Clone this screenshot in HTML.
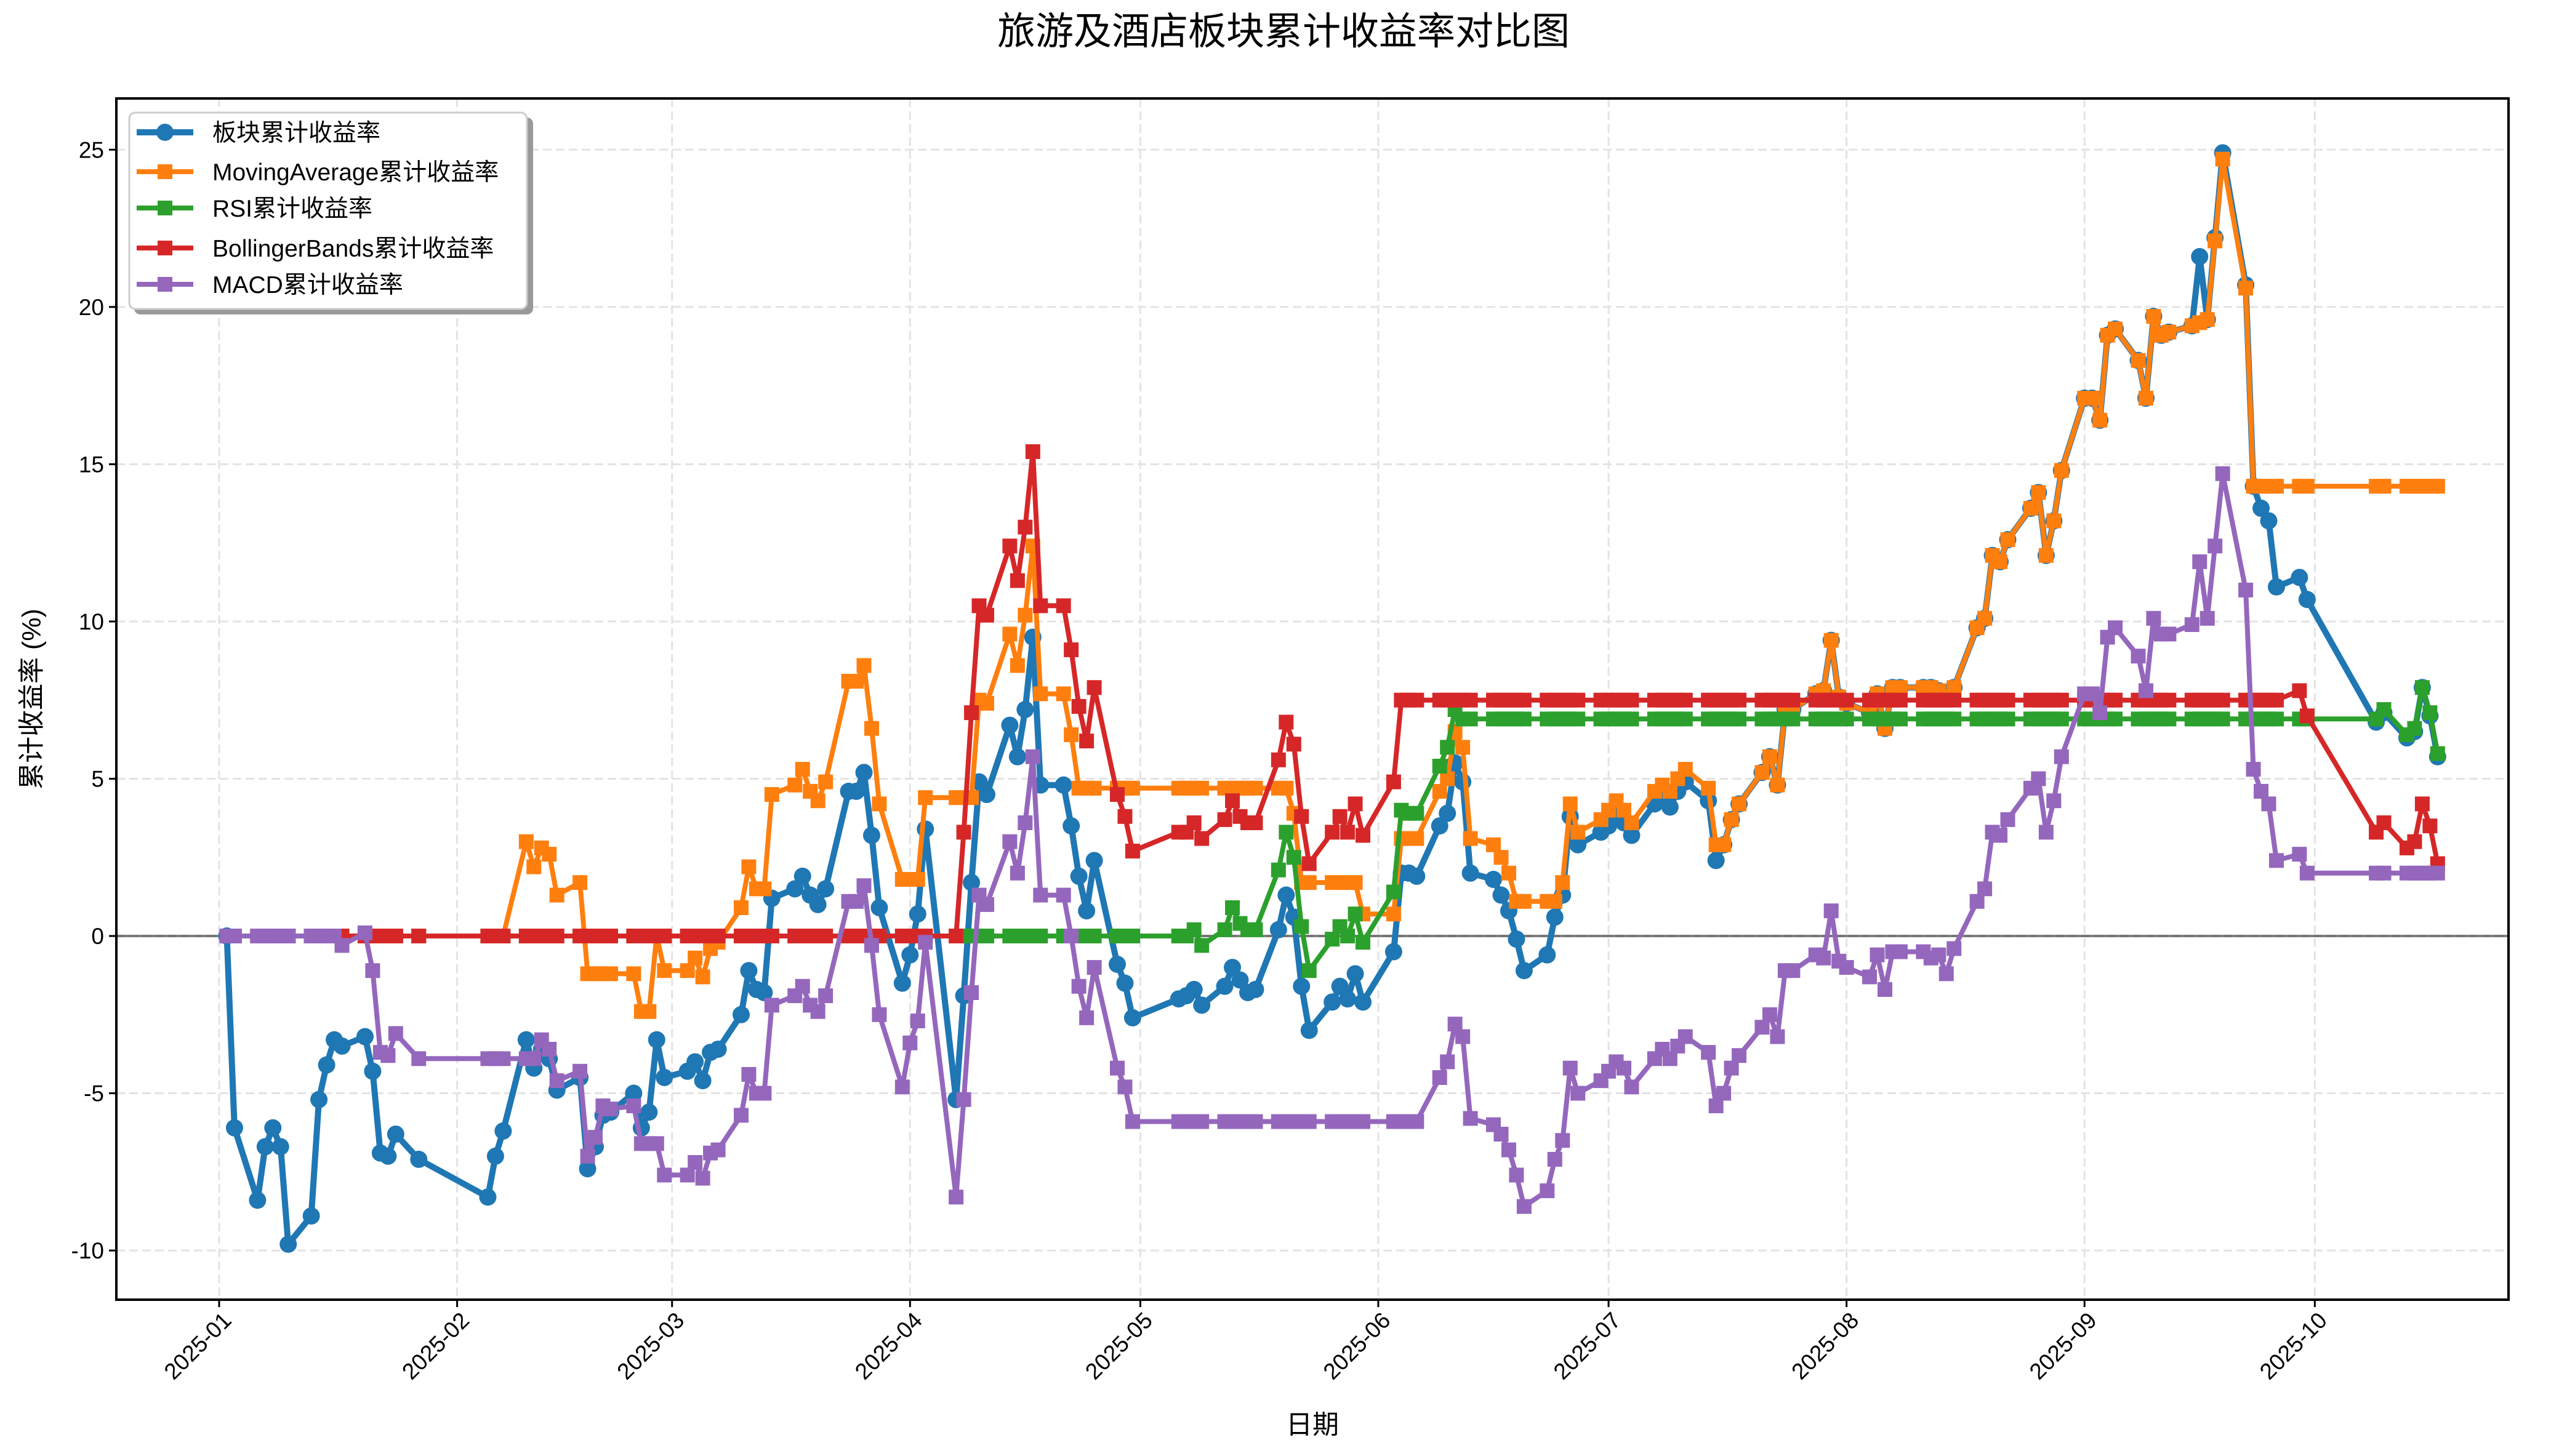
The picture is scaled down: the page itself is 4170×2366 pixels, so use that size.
<!DOCTYPE html>
<html><head><meta charset="utf-8"><style>
html,body{margin:0;padding:0;background:#fff;}
svg{display:block;font-family:"Liberation Sans","Noto Sans CJK SC",sans-serif;}
</style></head><body>
<svg id="chart" width="4170" height="2366" viewBox="0 0 4170 2366" xmlns="http://www.w3.org/2000/svg">
<rect width="4170" height="2366" fill="#fff"/>
<text x="2085" y="72" font-size="62" text-anchor="middle">旅游及酒店板块累计收益率对比图</text>
<g id="grid"></g>
<g id="series"></g>
<g id="axes"></g>
<text x="2132" y="2330" font-size="43" text-anchor="middle">日期</text>
<text transform="translate(66,1136) rotate(-90)" font-size="43" text-anchor="middle">累计收益率 (%)</text>
<g id="legend"></g>
</svg>
<script>
// ---- data ----
const tradingDays = {
  1:[2,3,6,7,8,9,10,13,14,15,16,17,20,21,22,23,24,27],
  2:[5,6,7,10,11,12,13,14,17,18,19,20,21,24,25,26,27,28],
  3:[3,4,5,6,7,10,11,12,13,14,17,18,19,20,21,24,25,26,27,28,31],
  4:[1,2,3,7,8,9,10,11,14,15,16,17,18,21,22,23,24,25,28,29,30],
  5:[6,7,8,9,12,13,14,15,16,19,20,21,22,23,26,27,28,29,30],
  6:[3,4,5,6,9,10,11,12,13,16,17,18,19,20,23,24,25,26,27,30],
  7:[1,2,3,4,7,8,9,10,11,14,15,16,17,18,21,22,23,24,25,28,29,30,31],
  8:[1,4,5,6,7,8,11,12,13,14,15,18,19,20,21,22,25,26,27,28,29],
  9:[1,2,3,4,5,8,9,10,11,12,15,16,17,18,19,22,23,24,25,26,29,30],
  10:[9,10,13,14,15,16,17]
};
const sectorReturns = [
 0,-6.1,-8.4,-6.7,-6.1,-6.7,-9.8,-8.9,-5.2,-4.1,-3.3,-3.5,-3.2,-4.3,-6.9,-7.0,-6.3,-7.1,
 -8.3,-7.0,-6.2,-3.3,-4.2,-3.6,-3.9,-4.9,-4.5,-7.4,-6.7,-5.7,-5.6,-5.0,-6.1,-5.6,-3.3,-4.5,
 -4.3,-4.0,-4.6,-3.7,-3.6,-2.5,-1.1,-1.7,-1.8,1.2,1.5,1.9,1.3,1.0,1.5,4.6,4.6,5.2,3.2,0.9,-1.5,
 -0.6,0.7,3.4,-5.2,-1.9,1.7,4.9,4.5,6.7,5.7,7.2,9.5,4.8,4.8,3.5,1.9,0.8,2.4,-0.9,-1.5,-2.6,
 -2.0,-1.9,-1.7,-2.2,-1.6,-1.0,-1.4,-1.8,-1.7,0.2,1.3,0.6,-1.6,-3.0,-2.1,-1.6,-2.0,-1.2,-2.1,
 -0.5,2.0,2.0,1.9,3.5,3.9,5.5,4.9,2.0,1.8,1.3,0.8,-0.1,-1.1,-0.6,0.6,1.3,3.8,2.9,3.3,
 3.5,3.8,3.6,3.2,4.2,4.3,4.1,4.6,4.9,4.3,2.4,2.9,3.7,4.2,5.2,5.7,4.8,7.2,7.2,7.7,7.8,9.4,7.6,
 7.4,7.1,7.7,6.6,7.9,7.9,7.9,7.9,7.8,7.6,7.9,9.8,10.1,12.1,11.9,12.6,13.6,14.1,12.1,13.2,14.8,
 17.1,17.1,16.4,19.1,19.3,18.3,17.1,19.7,19.1,19.2,19.4,21.6,19.6,22.2,24.9,20.7,14.3,13.6,13.2,11.1,11.4,10.7,
 6.8,7.1,6.3,6.5,7.9,7.0,5.7];
const maReturns = [
 0,0,0,0,0,0,0,0,0,0,0,0,0,0,0,0,0,0,
 0,0,0,3.0,2.2,2.8,2.6,1.3,1.7,-1.2,-1.2,-1.2,-1.2,-1.2,-2.4,-2.4,0,-1.1,
 -1.1,-0.7,-1.3,-0.4,-0.2,0.9,2.2,1.5,1.5,4.5,4.8,5.3,4.6,4.3,4.9,8.1,8.1,8.6,6.6,4.2,1.8,
 1.8,1.8,4.4,4.4,4.4,4.4,7.5,7.4,9.6,8.6,10.2,12.4,7.7,7.7,6.4,4.7,4.7,4.7,4.7,4.7,4.7,
 4.7,4.7,4.7,4.7,4.7,4.7,4.7,4.7,4.7,4.7,4.7,3.9,1.7,1.7,1.7,1.7,1.7,1.7,0.7,
 0.7,3.1,3.1,3.1,4.6,5.0,6.5,6.0,3.1,2.9,2.5,2.0,1.1,1.1,1.1,1.1,1.7,4.2,3.3,3.7,
 4.0,4.3,4.0,3.6,4.6,4.8,4.6,5.0,5.3,4.7,2.9,2.9,3.7,4.2,5.2,5.7,4.8,7.2,7.2,7.7,7.8,9.4,7.6,
 7.4,7.1,7.7,6.6,7.9,7.9,7.9,7.9,7.8,7.6,7.9,9.8,10.1,12.1,11.9,12.6,13.6,14.1,12.1,13.2,14.8,
 17.1,17.1,16.4,19.1,19.3,18.3,17.1,19.7,19.1,19.2,19.4,19.5,19.6,22.1,24.7,20.6,14.3,14.3,14.3,14.3,14.3,14.3,
 14.3,14.3,14.3,14.3,14.3,14.3,14.3];
const rsiReturns = [
 0,0,0,0,0,0,0,0,0,0,0,0,0,0,0,0,0,0,
 0,0,0,0,0,0,0,0,0,0,0,0,0,0,0,0,0,0,
 0,0,0,0,0,0,0,0,0,0,0,0,0,0,0,0,0,0,0,0,0,
 0,0,0,0,0,0,0,0,0,0,0,0,0,0,0,0,0,0,0,0,0,
 0,0,0.2,-0.3,0.2,0.9,0.4,0.2,0.2,2.1,3.3,2.5,0.3,-1.1,-0.1,0.3,0,0.7,-0.2,
 1.4,4.0,3.9,3.9,5.4,6.0,7.2,6.9,6.9,6.9,6.9,6.9,6.9,6.9,6.9,6.9,6.9,6.9,6.9,6.9,
 6.9,6.9,6.9,6.9,6.9,6.9,6.9,6.9,6.9,6.9,6.9,6.9,6.9,6.9,6.9,6.9,6.9,6.9,6.9,6.9,6.9,6.9,6.9,
 6.9,6.9,6.9,6.9,6.9,6.9,6.9,6.9,6.9,6.9,6.9,6.9,6.9,6.9,6.9,6.9,6.9,6.9,6.9,6.9,6.9,
 6.9,6.9,6.9,6.9,6.9,6.9,6.9,6.9,6.9,6.9,6.9,6.9,6.9,6.9,6.9,6.9,6.9,6.9,6.9,6.9,6.9,6.9,
 6.9,7.2,6.4,6.6,7.9,7.1,5.8];
const bbReturns = [
 0,0,0,0,0,0,0,0,0,0,0,0,0,0,0,0,0,0,
 0,0,0,0,0,0,0,0,0,0,0,0,0,0,0,0,0,0,
 0,0,0,0,0,0,0,0,0,0,0,0,0,0,0,0,0,0,0,0,0,
 0,0,0,0,3.3,7.1,10.5,10.2,12.4,11.3,13.0,15.4,10.5,10.5,9.1,7.3,6.2,7.9,4.5,3.8,2.7,
 3.3,3.3,3.6,3.1,3.7,4.3,3.8,3.6,3.6,5.6,6.8,6.1,3.8,2.3,3.3,3.8,3.3,4.2,3.2,
 4.9,7.5,7.5,7.5,7.5,7.5,7.5,7.5,7.5,7.5,7.5,7.5,7.5,7.5,7.5,7.5,7.5,7.5,7.5,7.5,
 7.5,7.5,7.5,7.5,7.5,7.5,7.5,7.5,7.5,7.5,7.5,7.5,7.5,7.5,7.5,7.5,7.5,7.5,7.5,7.5,7.5,7.5,7.5,
 7.5,7.5,7.5,7.5,7.5,7.5,7.5,7.5,7.5,7.5,7.5,7.5,7.5,7.5,7.5,7.5,7.5,7.5,7.5,7.5,7.5,
 7.5,7.5,7.5,7.5,7.5,7.5,7.5,7.5,7.5,7.5,7.5,7.5,7.5,7.5,7.5,7.5,7.5,7.5,7.5,7.5,7.8,7.0,
 3.3,3.6,2.8,3.0,4.2,3.5,2.3];
const macdReturns = [
 0,0,0,0,0,0,0,0,0,0,0,-0.3,0.1,-1.1,-3.7,-3.8,-3.1,-3.9,
 -3.9,-3.9,-3.9,-3.9,-3.9,-3.3,-3.6,-4.6,-4.3,-7.0,-6.4,-5.4,-5.5,-5.4,-6.6,-6.6,-6.6,-7.6,
 -7.6,-7.2,-7.7,-6.9,-6.8,-5.7,-4.4,-5.0,-5.0,-2.2,-1.9,-1.6,-2.2,-2.4,-1.9,1.1,1.1,1.6,-0.3,-2.5,-4.8,
 -3.4,-2.7,-0.2,-8.3,-5.2,-1.8,1.3,1.0,3.0,2.0,3.6,5.7,1.3,1.3,0,-1.6,-2.6,-1.0,-4.2,-4.8,-5.9,
 -5.9,-5.9,-5.9,-5.9,-5.9,-5.9,-5.9,-5.9,-5.9,-5.9,-5.9,-5.9,-5.9,-5.9,-5.9,-5.9,-5.9,-5.9,-5.9,
 -5.9,-5.9,-5.9,-5.9,-4.5,-4.0,-2.8,-3.2,-5.8,-6.0,-6.3,-6.8,-7.6,-8.6,-8.1,-7.1,-6.5,-4.2,-5.0,-4.6,
 -4.3,-4.0,-4.2,-4.8,-3.9,-3.6,-3.9,-3.5,-3.2,-3.7,-5.4,-5.0,-4.2,-3.8,-2.9,-2.5,-3.2,-1.1,-1.1,-0.6,-0.7,0.8,-0.8,
 -1.0,-1.3,-0.6,-1.7,-0.5,-0.5,-0.5,-0.7,-0.6,-1.2,-0.4,1.1,1.5,3.3,3.2,3.7,4.7,5.0,3.3,4.3,5.7,
 7.7,7.7,7.1,9.5,9.8,8.9,7.8,10.1,9.6,9.6,9.9,11.9,10.1,12.4,14.7,11.0,5.3,4.6,4.2,2.4,2.6,2.0,
 2.0,2.0,2.0,2.0,2.0,2.0,2.0];
const yTicks = [-10,-5,0,5,10,15,20,25];
const xTickLabels = ["2025-01","2025-02","2025-03","2025-04","2025-05","2025-06","2025-07","2025-08","2025-09","2025-10"];
const seriesNames = ["板块累计收益率","MovingAverage累计收益率","RSI累计收益率","BollingerBands累计收益率","MACD累计收益率"];

// ---- layout ----
const NS="http://www.w3.org/2000/svg";
const PL=189, PR=4075, PT=160, PB=2112;
const monthStart=[0,31,59,90,120,151,181,212,243,273];
function dayOf(m,d){return monthStart[m-1]+d-1;}
function xScale(day){return 356+day*12.47;}
function yScale(v){return 1521 - v*51.11;}
function mk(tag,attrs,parent){const e=document.createElementNS(NS,tag);for(const k in attrs)e.setAttribute(k,attrs[k]);parent.appendChild(e);return e;}
const days=[];
for(let m=1;m<=10;m++) for(const d of tradingDays[m]) days.push(dayOf(m,d));

const grid=document.getElementById('grid'), axes=document.getElementById('axes'), ser=document.getElementById('series'), leg=document.getElementById('legend');
yTicks.forEach(t=>{
  const g=mk('line',{x1:PL,x2:PR,y1:yScale(t),y2:yScale(t),stroke:'#e3e3e3','stroke-width':3,'stroke-dasharray':'14 7'},grid);
  
  
});
xTickLabels.forEach((lab,i)=>{
  const x=xScale(monthStart[i]);
  const g=mk('line',{x1:x,x2:x,y1:PT,y2:PB,stroke:'#e3e3e3','stroke-width':3,'stroke-dasharray':'14 7'},grid);
  
  
});
const zl=mk('line',{x1:PL,x2:PR,y1:yScale(0),y2:yScale(0),stroke:'#000','stroke-opacity':0.5,'stroke-width':4},grid);



const colors=['#1f77b4','#ff7f0e','#2ca02c','#d62728','#9467bd'];
const allData=[sectorReturns,maReturns,rsiReturns,bbReturns,macdReturns];
const slugs=['sector-series','moving-average-series','rsi-series','bollinger-series','macd-series'];
const lw=[10,8,8,8,8];
allData.forEach((vals,si)=>{
  const g=mk('g',{},ser);
  
  
  const pts=vals.map((v,i)=>xScale(days[i]).toFixed(1)+','+yScale(v).toFixed(1)).join(' ');
  const pl=mk('polyline',{points:pts,fill:'none',stroke:colors[si],'stroke-width':lw[si],'stroke-linejoin':'round'},g);
  
  
  vals.forEach((v,i)=>{
    const x=xScale(days[i]), y=yScale(v);
    let m;
    if(si===0){ m=mk('circle',{cx:x,cy:y,r:14,fill:colors[si]},g); }
    else { m=mk('rect',{x:x-12,y:y-12,width:24,height:24,fill:colors[si]},g); }
    
    
  });
});

const fr=mk('rect',{x:PL,y:PT,width:PR-PL,height:PB-PT,fill:'none',stroke:'#000','stroke-width':4},axes);


yTicks.forEach(t=>{
  const y=yScale(t);
  const tk=mk('line',{x1:PL-12,x2:PL,y1:y,y2:y,stroke:'#000','stroke-width':3},axes);
  
  
  const tx=mk('text',{x:PL-20,y:y+13,'font-size':37,'text-anchor':'end'},axes);
  tx.textContent=String(t);
  
  
});
xTickLabels.forEach((lab,i)=>{
  const x=xScale(monthStart[i]);
  const tk=mk('line',{x1:x,x2:x,y1:PB,y2:PB+12,stroke:'#000','stroke-width':3},axes);
  
  
  const tx=mk('text',{transform:`translate(${x+22},${PB+36}) rotate(-45)`,'font-size':37,'text-anchor':'end'},axes);
  tx.textContent=lab;
  
  
});

const sh=mk('rect',{x:218,y:191,width:648,height:320,rx:10,fill:'#999'},leg);


const bx=mk('rect',{x:210,y:183,width:646,height:319,rx:10,fill:'#fff',stroke:'#ccc','stroke-width':3},leg);


const rowY=[215,279,338,403,462];
seriesNames.forEach((nm,i)=>{
  const g=mk('g',{},leg);
  
  
  mk('line',{x1:222,x2:314,y1:rowY[i],y2:rowY[i],stroke:colors[i],'stroke-width':lw[i]},g);
  if(i===0) mk('circle',{cx:268,cy:rowY[i],r:14,fill:colors[i]},g);
  else mk('rect',{x:256,y:rowY[i]-12,width:24,height:24,fill:colors[i]},g);
  const t=mk('text',{x:345,y:rowY[i]+14,'font-size':39},g);
  t.textContent=nm;
});
</script>
</body></html>
